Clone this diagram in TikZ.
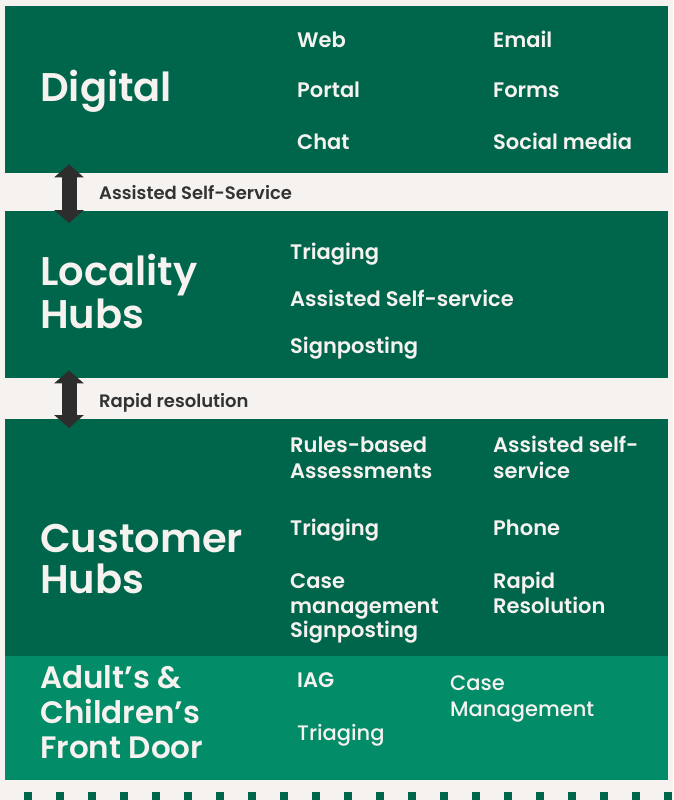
\documentclass[tikz,border=0pt]{standalone}
\usepackage{fontspec}
\setmainfont{Poppins}[BoldFont=* SemiBold]
\newfontfamily\titlefont{Poppins}[UprightFont=* SemiBold]
\newfontfamily\mediumfont{Poppins}[UprightFont=* Medium]
\usetikzlibrary{arrows.meta}
\definecolor{paper}{HTML}{F5F2F0}
\definecolor{deepgreen}{HTML}{00664B}
\definecolor{lightgreen}{HTML}{028C67}
\definecolor{arrowgrey}{HTML}{2D2D2D}
\definecolor{inktext}{HTML}{333333}
\tikzset{
  band/.style={fill=#1, draw=none, anchor=north west, minimum width=663pt, inner sep=0pt},
  title/.style={anchor=base west, inner sep=0pt, text=paper, font=\titlefont\fontsize{40}{44}\selectfont},
  smalltitle/.style={anchor=base west, inner sep=0pt, text=paper, font=\titlefont\fontsize{31}{35}\selectfont},
  item/.style={anchor=base west, inner sep=0pt, text=paper, font=\bfseries\fontsize{21}{25}\selectfont},
  lightitem/.style={anchor=base west, inner sep=0pt, text=paper, font=\mediumfont\fontsize{21}{25}\selectfont},
  linklabel/.style={anchor=base west, inner sep=0pt, text=inktext, font=\bfseries\fontsize{18}{22}\selectfont},
  link/.style={draw=arrowgrey, line width=15pt,
    {Triangle[width=29pt,length=13pt]}-{Triangle[width=29pt,length=13pt]}},
  tick/.style={fill=deepgreen, draw=none},
}
\begin{document}
\begin{tikzpicture}[x=1pt, y=-1pt]
  % page background
  \fill[paper] (0,0) rectangle (673,800);
  \useasboundingbox (0,0) rectangle (673,800);

  % the four bands
  \node[band=deepgreen, minimum height=167pt] (digital) at (5,6) {};
  \node[band=deepgreen, minimum height=167pt] (locality) at (5,211) {};
  \node[band=deepgreen, minimum height=237pt] (customer) at (5,419) {};
  \node[band=lightgreen, minimum height=124pt] (frontdoor) at (5,656) {};

  % Digital
  \node[title] (tDigital) at (40,101) {Digital};
  \node[item] (dWeb) at (297,48) {Web};
  \node[item] (dEmail) at (493,48) {Email};
  \node[item] (dPortal) at (297,97) {Portal};
  \node[item] (dForms) at (493,97) {Forms};
  \node[item] (dChat) at (297,149) {Chat};
  \node[item] (dSocial) at (493,149) {Social media};

  % Locality Hubs
  \node[title] (tLocality) at (40,285) {Locality};
  \node[title] (tLocHubs) at (40,328) {Hubs};
  \node[item] (lTriaging) at (290,259) {Triaging};
  \node[item] (lAssisted) at (290,306) {Assisted Self-service};
  \node[item] (lSignpost) at (290,353) {Signposting};

  % Customer Hubs
  \node[title] (tCustomer) at (40,552) {Customer};
  \node[title] (tCusHubs) at (40,593) {Hubs};
  \node[item] (cRules) at (290,452) {Rules-based};
  \node[item] (cAssess) at (290,478) {Assessments};
  \node[item] (cTriaging) at (290,535) {Triaging};
  \node[item] (cCase) at (290,588) {Case};
  \node[item] (cManage) at (290,613) {management};
  \node[item] (cSignpost) at (290,637) {Signposting};
  \node[item] (cAssisted) at (493,452) {Assisted self-};
  \node[item] (cService) at (493,478) {service};
  \node[item] (cPhone) at (493,535) {Phone};
  \node[item] (cRapid) at (493,588) {Rapid};
  \node[item] (cResol) at (493,613) {Resolution};

  % Adult's & Children's Front Door
  \node[smalltitle] (tAdult) at (40,688) {Adult’s \&};
  \node[smalltitle] (tChildren) at (40,723) {Children’s};
  \node[smalltitle] (tFront) at (40,758) {Front Door};
  \node[item] (fIAG) at (297,687) {IAG};
  \node[lightitem] (fTriaging) at (297,740) {Triaging};
  \node[lightitem] (fCase) at (450,690) {Case};
  \node[lightitem] (fManage) at (450,716) {Management};

  % two-way links between the bands
  \coordinate (linkAtop) at ([xshift=64pt, yshift=9pt]digital.south west);
  \coordinate (linkAbot) at ([xshift=64pt, yshift=-12pt]locality.north west);
  \draw[link] (linkAtop) -- (linkAbot);
  \node[linklabel] (lblAssisted) at (99,199) {Assisted Self-Service};

  \coordinate (linkBtop) at ([xshift=64pt, yshift=8pt]locality.south west);
  \coordinate (linkBbot) at ([xshift=64pt, yshift=-9pt]customer.north west);
  \draw[link] (linkBtop) -- (linkBbot);
  \node[linklabel] (lblRapid) at (99,407) {Rapid resolution};

  % row of square ticks along the bottom edge
  \foreach \i in {0,...,20} {
    \fill[tick] ({24+32*\i},792) rectangle ++(8,8);
  }
\end{tikzpicture}
\end{document}
